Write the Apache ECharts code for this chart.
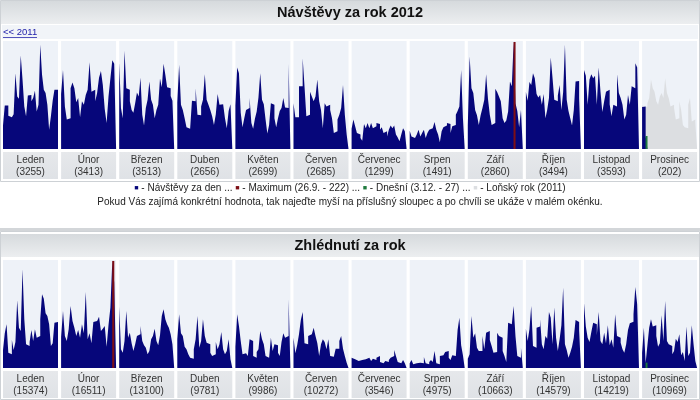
<!DOCTYPE html>
<html><head><meta charset="utf-8">
<script src="https://cdn.jsdelivr.net/npm/echarts@6/dist/echarts.min.js"></script>
<style>html,body{margin:0;padding:0;background:#fff}#c{width:700px;height:400px}</style>
</head><body><div id="c"></div>
<script>
// ---------- DATA ----------
const months = ['Leden','Únor','Březen','Duben','Květen','Červen','Červenec','Srpen','Září','Říjen','Listopad','Prosinec'];
const visitTotals = [3255,3413,3513,2656,2699,2685,1299,1491,2860,3494,3593,202];
const viewTotals = [15374,16511,13100,9781,9986,10272,3546,4975,10663,14579,14219,10969];

// Návštěvy za den 2012
const visitsLeden = [49,90,90,69,66,64,72,157,109,104,194,144,88,68,111,112,99,106,121,78,92,216,154,123,116,92,40,68,100,123,123];
const visitsUnor = [114,164,88,61,64,126,138,126,97,106,66,99,92,112,123,180,119,123,99,116,148,162,133,83,54,109,147,184,177];
const visitsBrezen = [179,85,64,204,126,123,99,81,75,95,117,109,148,71,49,85,102,140,102,92,64,81,92,146,128,177,154,128,126,110,100];
const visitsDuben = [97,175,92,81,64,45,42,45,100,99,126,71,70,88,102,155,102,92,81,68,50,72,114,92,93,92,64,43,79,93];
const visitsKveten = [90,169,157,75,45,64,81,85,106,54,42,63,78,107,157,102,93,61,32,50,95,92,64,45,64,79,85,106,86,85,177];
const visitsCerven = [95,66,66,130,130,188,130,68,71,119,109,99,109,144,99,81,43,95,88,92,81,64,33,37,61,71,85,133,71,30];
const visitsCervenec = [42,61,47,33,30,23,17,52,43,54,43,54,43,47,54,52,40,45,33,37,26,40,49,43,49,30,24,16,30,43,37];
const visitsSrpen = [38,26,23,19,30,40,26,33,40,23,33,40,43,40,56,40,30,14,37,45,49,54,52,33,47,50,71,79,88,164,64];
const visitsZari = [49,192,126,116,81,70,50,70,85,102,155,104,71,50,54,125,118,109,99,64,54,59,78,140,130,222,95,79,45,81];
const visitsRijen = [118,100,139,133,157,147,114,107,112,92,114,64,81,106,190,148,102,99,111,133,81,118,216,102,79,64,49,81,140,141,106];
const visitsListopad = [164,152,92,144,155,147,152,92,169,119,77,99,119,123,93,68,92,88,155,116,106,92,61,71,112,92,130,126,178,169];
const visitsProsinec = [87,88,27,null,null,null,null,null,null,null,null,null,null,null,null,null,null,null,null,null,null,null,null,null,null,null,null,null,null,null,null];
// Loňský rok (2011) – prosinec
const visitsProsinec2011 = [92,85,88,95,106,144,126,119,99,92,109,116,106,147,116,106,88,92,85,61,64,99,81,50,45,43,92,106,57,61,54];

// Zhlédnutí za den
const viewsLeden = [224,440,554,195,173,355,228,330,859,512,470,1252,618,300,279,330,482,343,491,385,406,618,935,880,694,660,554,279,313,575,584];
const viewsUnor = [393,723,406,343,491,787,596,512,406,482,385,554,440,964,364,440,313,584,596,618,651,470,499,533,271,546,766,1358,1083];
const viewsBrezen = [778,237,195,343,723,385,448,313,216,300,406,427,533,343,288,258,173,216,364,406,499,343,288,415,660,744,618,554,512,427,300];
const viewsDuben = [364,681,440,406,271,237,173,131,118,237,364,660,258,343,618,406,321,300,195,152,173,330,237,300,457,237,173,216,364,110];
const viewsKveten = [271,681,533,343,173,186,182,152,364,343,152,131,203,237,470,364,300,152,131,131,385,216,300,288,195,152,330,440,385,406,871];
const viewsCerven = [385,186,288,427,609,711,313,300,406,427,440,512,406,313,152,300,364,330,237,364,152,144,152,245,245,343,406,245,152,68];
const viewsCervenec = [131,110,131,89,102,102,89,110,102,131,144,89,118,102,131,152,76,59,76,89,76,102,131,152,228,152,76,59,76,102,59];
const viewsSrpen = [59,102,47,59,68,68,76,59,140,59,47,76,102,76,216,59,47,152,161,186,203,216,131,102,161,152,152,482,639,288,161];
const viewsZari = [118,173,660,385,440,258,216,216,406,237,448,470,355,279,195,203,448,406,385,216,152,76,575,554,533,787,406,152,131,258];
const viewsRijen = [499,343,491,787,279,258,512,525,618,300,237,406,372,711,639,300,766,385,216,364,541,1019,300,228,131,195,271,385,609,584,482];
const viewsListopad = [821,525,385,330,457,575,554,415,711,343,300,448,313,541,288,364,258,681,406,385,321,237,195,300,482,567,588,681,1028,808];
const viewsProsinec = [195,512,68,288,512,618,525,541,406,271,313,668,343,850,343,300,279,173,216,372,330,427,161,203,89,525,152,195,541,300,89];

const todayMonth = 11, todayDay = 2; // 3.12.

// ---------- BUILD ----------
const visits = [visitsLeden,visitsUnor,visitsBrezen,visitsDuben,visitsKveten,visitsCerven,visitsCervenec,visitsSrpen,visitsZari,visitsRijen,visitsListopad,visitsProsinec];
const views = [viewsLeden,viewsUnor,viewsBrezen,viewsDuben,viewsKveten,viewsCerven,viewsCervenec,viewsSrpen,viewsZari,viewsRijen,viewsListopad,viewsProsinec];

const NAVY = '#06067a', RED = '#7d0f16', GREEN = '#1f7a3e', GHOST = '#dcdee1';
const CELL_BG = '#eef2f8';
const FONT = '"Liberation Sans", Arial, sans-serif';
const colX = m => 3 + m * 58.1;
const COLW = 55;

function findMax(arrs){
  let best = {v:-1, m:0, d:0};
  arrs.forEach((a,m)=>a.forEach((v,d)=>{ if(v!=null && v>best.v) best={v,m,d}; }));
  return best;
}
// each day = one full-width column: outline through (d, v) and (d+1, v), filled down to 0
function stepData(arr){
  const pts = [];
  arr.forEach((v,d)=>{ if(v!=null){ pts.push([d,v]); pts.push([d+1,v]); } });
  return pts;
}
function stepSeries(gi, arr, color, z){
  return {type:'line', xAxisIndex:gi, yAxisIndex:gi, data:stepData(arr), symbol:'none', silent:true, smooth:false,
    lineStyle:{width:0, color:color, opacity:0}, areaStyle:{color:color, opacity:1, origin:'start'}, z:z};
}

const panels = [
  {title:'Návštěvy za rok 2012', data:visits, totals:visitTotals, max:224, titleTop:1, cellTop:41, cellBottom:149, labTop:152},
  {title:'Zhlédnutí za rok', data:views, totals:viewTotals, max:1370, titleTop:234, cellTop:260, cellBottom:368, labTop:371}
];

const grid=[], xAxis=[], yAxis=[], series=[], graphic=[];

// frames & title bars
graphic.push({type:'rect', shape:{x:0.5,y:0.5,width:699,height:181}, style:{fill:'#fff', stroke:'#cdd1d5', lineWidth:1}, z:-10});
graphic.push({type:'rect', shape:{x:0.5,y:231.5,width:699,height:168}, style:{fill:'#fff', stroke:'#cdd1d5', lineWidth:1}, z:-10});
graphic.push({type:'rect', shape:{x:0,y:228,width:700,height:3}, style:{fill:'#d3d6d9'}, z:-9});
graphic.push({type:'rect', shape:{x:2,y:25,width:696,height:14}, style:{fill:'#f1f4f8'}, z:-8});

let gi = 0;
panels.forEach((p,pi)=>{
  const mx = findMax(p.data);
  graphic.push({type:'rect', shape:{x:1,y:p.titleTop,width:698,height:23},
    style:{fill:new echarts.graphic.LinearGradient(0,0,0,1,[{offset:0,color:'#d6dadd'},{offset:1,color:'#eceef0'}])}, z:-5});
  graphic.push({type:'text', x:350, y:p.titleTop+12, style:{text:p.title, font:'bold 14.5px '+FONT, fill:'#111', textAlign:'center', textVerticalAlign:'middle'}});
  p.data.forEach((arr,m)=>{
    const left = colX(m);
    const n = arr.length;
    grid.push({left:left, top:p.cellTop, width:COLW, height:p.cellBottom-p.cellTop, show:true, backgroundColor:CELL_BG, borderWidth:0, containLabel:false});
    xAxis.push({type:'value', gridIndex:gi, min:0, max:n, show:false});
    yAxis.push({type:'value', gridIndex:gi, min:0, max:p.max, show:false});
    if (m===11 && pi===0) series.push(stepSeries(gi, visitsProsinec2011, GHOST, 1));
    series.push(stepSeries(gi, arr, NAVY, 2));
    // highlighted days (maximum, today) as single columns on top
    const hi = arr.map((v,d)=>{
      if (v==null) return null;
      if (m===mx.m && d===mx.d) return {value:[d+0.5,v], itemStyle:{color:RED}};
      if (m===todayMonth && d===todayDay) return {value:[d+0.5,v], itemStyle:{color:GREEN}};
      return null;
    }).filter(x=>x);
    if (hi.length) series.push({type:'bar', xAxisIndex:gi, yAxisIndex:gi, data:hi, barWidth:COLW/n+0.2, silent:true, z:3});
    // label box
    graphic.push({type:'rect', shape:{x:left,y:p.labTop,width:COLW,height:27},
      style:{fill:new echarts.graphic.LinearGradient(0,0,0,1,[{offset:0,color:'#e6e8eb'},{offset:1,color:'#dfe2e6'}])}, z:-4});
    graphic.push({type:'text', x:left+COLW/2, y:p.labTop+8, style:{text:months[m], font:'10px '+FONT, fill:'#333', textAlign:'center', textVerticalAlign:'middle'}});
    graphic.push({type:'text', x:left+COLW/2, y:p.labTop+20, style:{text:'('+p.totals[m]+')', font:'10px '+FONT, fill:'#333', textAlign:'center', textVerticalAlign:'middle'}});
    gi++;
  });
});

// link
graphic.push({type:'text', x:3, y:32, style:{text:'<< 2011', font:'9.5px '+FONT, fill:'#1c1ca8', textAlign:'left', textVerticalAlign:'middle'}});
graphic.push({type:'rect', shape:{x:3,y:37,width:34,height:0.8}, style:{fill:'#1c1ca8'}});

// legend
const vm = findMax(visits);
const todayVal = visits[todayMonth][todayDay];
const legendText = '{n|■} - Návštěvy za den ... {r|■} - Maximum (' + (vm.d+1) + '.' + (vm.m+1) + '. - ' + vm.v + ') ... {g|■} - Dnešní (' + (todayDay+1) + '.' + (todayMonth+1) + '. - ' + todayVal + ') ... {l|■} - Loňský rok (2011)';
graphic.push({type:'text', x:350, y:188, style:{text:legendText, font:'10px '+FONT, fill:'#222', textAlign:'center', textVerticalAlign:'middle',
  rich:{n:{fill:NAVY,font:'7px '+FONT}, r:{fill:RED,font:'7px '+FONT}, g:{fill:GREEN,font:'7px '+FONT}, l:{fill:GHOST,font:'7px '+FONT}}}});
graphic.push({type:'text', x:350, y:202, style:{text:'Pokud Vás zajímá konkrétní hodnota, tak najeďte myší na příslušný sloupec a po chvíli se ukáže v malém okénku.', font:'10px '+FONT, fill:'#222', textAlign:'center', textVerticalAlign:'middle'}});

const chart = echarts.init(document.getElementById('c'));
chart.setOption({animation:false, backgroundColor:'#fff', grid, xAxis, yAxis, series, graphic});
</script></body></html>
